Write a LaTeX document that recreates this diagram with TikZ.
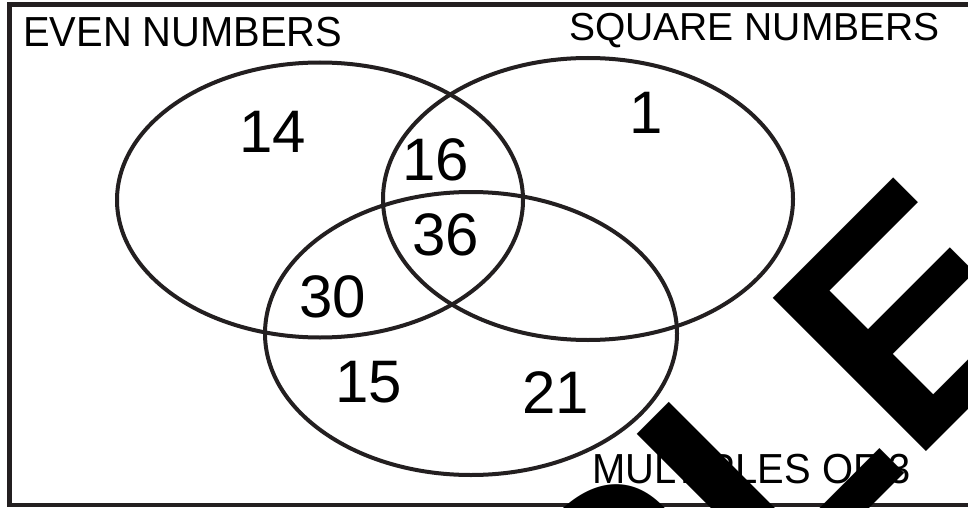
\documentclass[tikz,border=0pt]{standalone}
\usepackage{fontspec}
\setmainfont{Liberation Sans}
\usepackage{graphicx}
\usetikzlibrary{shapes.geometric}
\definecolor{ink}{RGB}{35,31,32}
\begin{document}
\begin{tikzpicture}[x=1pt,y=-1pt,
  setring/.style={ellipse, draw=ink, line width=4pt, inner sep=0pt, outer sep=0pt},
  head/.style={anchor=base west, inner sep=0pt, text=black},
  num/.style={anchor=base, inner sep=0pt, font=\fontsize{60}{60}\selectfont, text=black},
  wmark/.style={rotate=45, anchor=base east, inner sep=0pt, text=black, font=\fontsize{315}{315}\selectfont\bfseries}]
\useasboundingbox (0,0) rectangle (968,508);
\fill[white] (0,0) rectangle (968,508);
\begin{scope}
\clip (0,0) rectangle (968,508);
\draw[line width=4.5pt, ink] (9.5,4.5) rectangle (975,505);
\node[setring, minimum width=406pt, minimum height=275pt] (even) at (320,200) {};
\node[setring, minimum width=410pt, minimum height=282pt] (square) at (588,199) {};
\node[setring, minimum width=412pt, minimum height=283pt] (three) at (471,333.5) {};
\node[head, font=\fontsize{42}{42}\selectfont] (evenlab) at (23,47) {\scalebox{0.95}[1]{EVEN NUMBERS}};
\node[head, font=\fontsize{39}{39}\selectfont] (squarelab) at (569,41) {SQUARE NUMBERS};
\node[head, font=\fontsize{42}{42}\selectfont] (threelab) at (592,483) {\scalebox{0.95}[1]{MULTIPLES OF 3}};
\node[num] (n14) at (272.5,152) {14};
\node[num] (n16) at (436,180) {16};
\node[num] (n36) at (445.5,255) {36};
\node[num] (n1) at (646,133) {1};
\node[num] (n30) at (333,317) {30};
\node[num] (n15) at (369,402) {15};
\node[num] (n21) at (556,413) {21};
\node[wmark] (wm) at (1060,318) {SAMPLE};
\end{scope}
\end{tikzpicture}
\end{document}
